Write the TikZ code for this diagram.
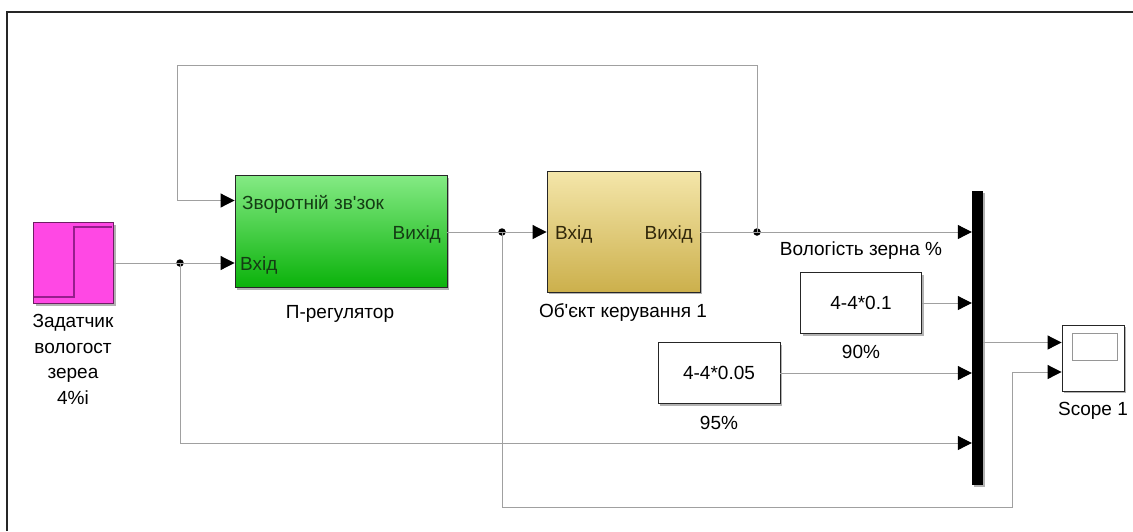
\documentclass[tikz,border=0pt]{standalone}
\usepackage{fontspec}
\setmainfont{Liberation Sans}[Ligatures=TeXOff]
\usetikzlibrary{arrows.meta,shadows}

\definecolor{wirec}{RGB}{160,160,160}
\definecolor{stepfill}{RGB}{255,72,228}
\definecolor{stepedge}{RGB}{110,30,100}
\definecolor{stepline}{RGB}{150,30,140}
\definecolor{greentop}{RGB}{132,234,132}
\definecolor{greenbot}{RGB}{10,178,10}
\definecolor{greentext}{RGB}{20,60,20}
\definecolor{goldtop}{RGB}{244,230,170}
\definecolor{goldbot}{RGB}{204,176,76}
\definecolor{goldtext}{RGB}{50,40,10}
\definecolor{screenc}{RGB}{150,150,150}

\tikzset{
  blk/.style={draw=black!85, line width=0.9pt, inner sep=0pt,
    drop shadow={shadow xshift=2pt, shadow yshift=-2pt, opacity=0.3, fill=black}},
  wire/.style={draw=wirec, line width=1pt},
  sig/.style={wire, -{Triangle[length=14pt,width=14pt,color=black]}},
  txt/.style={font=\fontsize{19}{23}\selectfont, inner sep=0pt},
  junction/.style={circle, fill=black, inner sep=0pt, minimum size=7.5pt},
}

\begin{document}
\begin{tikzpicture}[x=1pt,y=-1pt]
\useasboundingbox (0,0) rectangle (1133,531);

% outer frame (top and left edges)
\draw[line width=1.4pt, black!85] (7,531) -- (7,12) -- (1133,12);

% setpoint step source
\node[blk, draw=stepedge, fill=stepfill, minimum width=80pt, minimum height=81pt] (step) at (73.5,263) {};
\draw[stepline, line width=1.1pt] (34,297) -- (74,297) -- (74,227) -- (112,227);
\node[txt, anchor=north, align=center, font=\fontsize{19}{25.7}\selectfont] (steplbl) at (73,314)
  {Задатчик\\вологост\\зереа\\4\%і};

% P controller
\node[blk, top color=greentop, bottom color=greenbot, minimum width=212pt, minimum height=112pt] (preg) at (341,231.5) {};
\node[txt, anchor=base west, text=greentext] (pregin1) at (242,209) {Зворотній зв'зок};
\node[txt, anchor=base west, text=greentext] (pregin2) at (240,270) {Вхід};
\node[txt, anchor=base east, text=greentext] (pregout) at (441,239) {Вихід};
\node[txt, anchor=base] (preglbl) at (340,318) {П-регулятор};

% controlled plant
\node[blk, top color=goldtop, bottom color=goldbot, minimum width=153pt, minimum height=121pt] (plant) at (623.5,231.5) {};
\node[txt, anchor=base west, text=goldtext] (plantin) at (555,239) {Вхід};
\node[txt, anchor=base east, text=goldtext] (plantout) at (693,239) {Вихід};
\node[txt, anchor=base] (plantlbl) at (623,317) {Об'єкт керування 1};

% constants
\node[blk, fill=white, minimum width=121pt, minimum height=61pt, txt] (c1) at (861,303) {4-4*0.1};
\node[txt, anchor=base] (c1lbl) at (861,358) {90\%};
\node[blk, fill=white, minimum width=122pt, minimum height=61pt, txt] (c2) at (719,373) {4-4*0.05};
\node[txt, anchor=base] (c2lbl) at (719,429) {95\%};

% mux bar
\node[fill=black, inner sep=0pt, minimum width=11pt, minimum height=294pt,
  drop shadow={shadow xshift=2pt, shadow yshift=-2pt, opacity=0.3, fill=black}] (mux) at (977.5,338) {};

% scope
\node[blk, fill=white, minimum width=62pt, minimum height=66pt] (scope) at (1093,358) {};
\node[draw=screenc, line width=1pt, minimum width=45pt, minimum height=27pt, inner sep=0pt] (screen) at (1094.5,346.5) {};
\node[txt, anchor=base] (scopelbl) at (1093,415) {Scope 1};

% branch points
\node[junction] (j1) at (180,263) {};
\node[junction] (j2) at (502,232) {};
\node[junction] (j3) at (757,232) {};
\coordinate (fbL) at (177,65);
\coordinate (fbIn) at (177,200.5);
\coordinate (lowR) at (1012,507);

% connectors
\draw[sig] (step.east |- j1) -- (j1 -| preg.west);
\draw[sig] (j3.center) |- (fbL) -- (fbIn) -- (fbIn -| preg.west);
\draw[sig] (j1.center) |- (mux.west |- 0,443);
\draw[sig] (preg.east |- j2) -- (j2 -| plant.west);
\draw[sig] (j2.center) |- (lowR) |- (scope.west |- 0,372);
\draw[sig] (plant.east |- j3) -- (j3 -| mux.west);
\node[txt, anchor=base] (siglbl) at (861,255) {Вологість зерна \%};
\draw[sig] (c1.east) -- (c1.east -| mux.west);
\draw[sig] (c2.east) -- (c2.east -| mux.west);
\draw[sig] (mux.east |- 0,342.5) -- (scope.west |- 0,342.5);
\end{tikzpicture}
\end{document}
